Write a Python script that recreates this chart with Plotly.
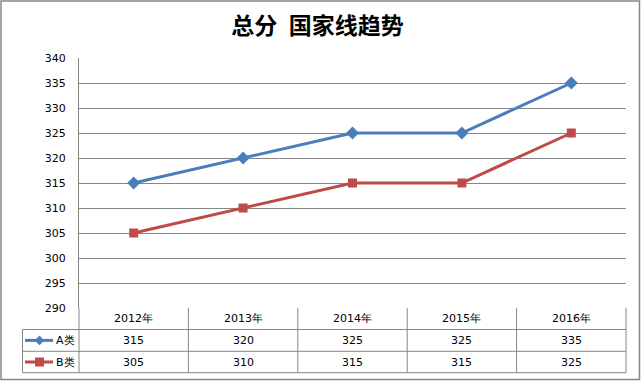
import plotly.graph_objects as go

years = ["2012年", "2013年", "2014年", "2015年", "2016年"]
series_names = ["A类", "B类"]
a_values = [315, 320, 325, 325, 335]
b_values = [305, 310, 315, 315, 325]
y_ticks = [290, 295, 300, 305, 310, 315, 320, 325, 330, 335, 340]

W, H = 641, 381
ML, MR, MT, MB = 79, 15, 58, 73
PW, PH = W - ML - MR, H - MT - MB

def px_x(px):
    return (px - ML) / PW

def px_y(py):
    return (H - MB - py) / PH

BLUE = "#4A7EBB"
RED = "#BE4B48"
GRID = "#868686"
FONT = "DejaVu Sans"

fig = go.Figure()
fig.add_trace(go.Scatter(x=years, y=a_values, name=series_names[0], mode="lines+markers",
                         line=dict(color=BLUE, width=3),
                         marker=dict(symbol="diamond", size=10, color=BLUE)))
fig.add_trace(go.Scatter(x=years, y=b_values, name=series_names[1], mode="lines+markers",
                         line=dict(color=RED, width=3),
                         marker=dict(symbol="square", size=9, color=RED)))

shapes = []
line_style = dict(color=GRID, width=1)
n = len(years)
row_top = 308
row1 = 329.5
row2 = 351.3
row_bot = 372.7
leg_left = 22.5
# vertical column boundaries
for i in range(n + 1):
    shapes.append(dict(type="line", xref="paper", yref="paper", x0=i / n, x1=i / n,
                       y0=px_y(row_top), y1=px_y(row_bot), line=line_style))
# horizontal row lines
for py in [row1, row2, row_bot]:
    shapes.append(dict(type="line", xref="paper", yref="paper", x0=px_x(leg_left), x1=1,
                       y0=px_y(py), y1=px_y(py), line=line_style))
# legend column left edge
shapes.append(dict(type="line", xref="paper", yref="paper", x0=px_x(leg_left), x1=px_x(leg_left),
                   y0=px_y(row1), y1=px_y(row_bot), line=line_style))

# legend keys
rows_y = [(row1 + row2) / 2, (row2 + row_bot) / 2]
colors = [BLUE, RED]
for k, cy in enumerate(rows_y):
    shapes.append(dict(type="line", xref="paper", yref="paper", x0=px_x(25), x1=px_x(53),
                       y0=px_y(cy), y1=px_y(cy), line=dict(color=colors[k], width=3)))
cx = 39.5
d = 4.8
cy = rows_y[0]
shapes.append(dict(type="path", xref="paper", yref="paper",
                   path=f"M {px_x(cx - d)} {px_y(cy)} L {px_x(cx)} {px_y(cy - d)} L {px_x(cx + d)} {px_y(cy)} L {px_x(cx)} {px_y(cy + d)} Z",
                   fillcolor=BLUE, line=dict(width=0)))
cy = rows_y[1]
s = 4.5
shapes.append(dict(type="rect", xref="paper", yref="paper",
                   x0=px_x(cx - s), x1=px_x(cx + s), y0=px_y(cy - s), y1=px_y(cy + s),
                   fillcolor=RED, line=dict(width=0)))

# outer chart border
shapes.append(dict(type="rect", xref="paper", yref="paper",
                   x0=px_x(1), x1=px_x(639.5), y0=px_y(379.5), y1=px_y(1),
                   line=dict(color=GRID, width=1.5)))

annotations = []
tf = dict(family=FONT, size=11, color="black")
for i, yr in enumerate(years):
    annotations.append(dict(x=yr, xref="x", y=px_y((row_top + row1) / 2), yref="paper",
                            text=yr, showarrow=False, font=tf, xanchor="center", yanchor="middle"))
    annotations.append(dict(x=yr, xref="x", y=px_y(rows_y[0]), yref="paper",
                            text=str(a_values[i]), showarrow=False, font=tf, xanchor="center", yanchor="middle"))
    annotations.append(dict(x=yr, xref="x", y=px_y(rows_y[1]), yref="paper",
                            text=str(b_values[i]), showarrow=False, font=tf, xanchor="center", yanchor="middle"))
for k, name in enumerate(series_names):
    annotations.append(dict(x=px_x(54), xref="paper", y=px_y(rows_y[k]), yref="paper",
                            text=name, showarrow=False, font=tf, xanchor="left", yanchor="middle"))

fig.update_layout(
    width=W, height=H,
    margin=dict(l=ML, r=MR, t=MT, b=MB),
    paper_bgcolor="white", plot_bgcolor="white",
    showlegend=False,
    title=dict(text="<b>总分\u2002国家线趋势</b>", x=317.5 / W, xanchor="center", y=1 - 26 / H, yanchor="middle",
               font=dict(family="Noto Sans CJK SC", size=23, color="black")),
    xaxis=dict(type="category", range=[-0.5, n - 0.5], showgrid=False, showticklabels=False,
               ticks="", showline=False, zeroline=False, fixedrange=True),
    yaxis=dict(range=[290, 340], tickvals=y_ticks, showgrid=True, gridcolor=GRID, gridwidth=1,
               showline=True, linecolor=GRID, linewidth=1, ticks="", zeroline=False,
               tickfont=dict(family=FONT, size=11, color="black"), ticklabelstandoff=10),
    shapes=shapes,
    annotations=annotations,
)

fig.write_html("out.html", config={"displayModeBar": False},
               post_script="document.body.style.margin='0px';")
